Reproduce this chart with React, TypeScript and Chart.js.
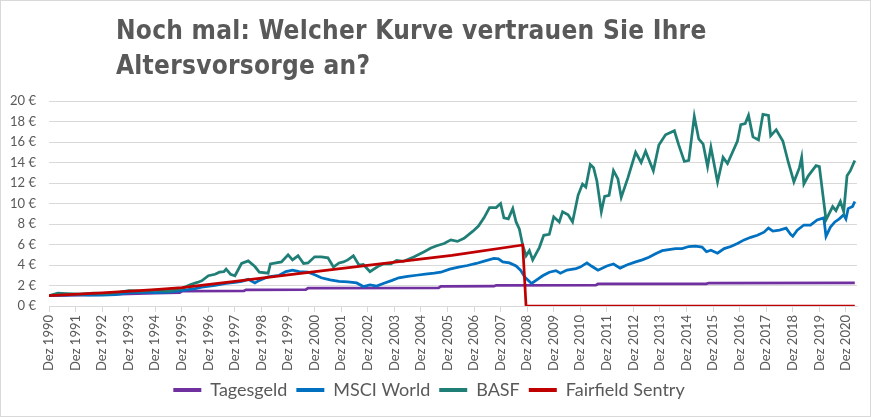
import React, { useEffect, useRef } from 'react';
import { Chart, registerables } from 'chart.js';

Chart.register(...registerables);

// x values are months counted from Dez 1990
const tickYears = [1990, 1991, 1992, 1993, 1994, 1995, 1996, 1997, 1998, 1999, 2000, 2001, 2002, 2003, 2004, 2005, 2006, 2007, 2008, 2009, 2010, 2011, 2012, 2013, 2014, 2015, 2016, 2017, 2018, 2019, 2020];
const yTickValues = [0, 2, 4, 6, 8, 10, 12, 14, 16, 18, 20];

const seriesNames = ['Tagesgeld', 'MSCI World', 'BASF', 'Fairfield Sentry'];

const tagesgeldMonths = [0, 12, 24, 36, 48, 59, 60, 88, 89, 116, 117, 176, 177, 201, 202, 247, 248, 297, 298, 364];
const tagesgeldValues = [1.0, 1.06, 1.12, 1.18, 1.25, 1.3, 1.44, 1.47, 1.58, 1.6, 1.75, 1.77, 1.92, 1.93, 2.02, 2.03, 2.15, 2.16, 2.24, 2.25];

const fairfieldMonths = [0, 24, 48, 60, 84, 108, 141, 182, 214, 215.5, 364];
const fairfieldValues = [1.0, 1.28, 1.6, 1.8, 2.4, 3.03, 3.9, 4.95, 5.95, 0, 0];

const msciMonths = [0, 4, 8, 12, 18, 24, 30, 36, 42, 48, 54, 60, 66, 69, 75, 80, 84, 87, 90, 93, 95, 99, 104, 107, 110, 113, 117, 120, 123, 127, 131, 135, 139, 142, 145, 148, 151, 155, 158, 162, 166, 170, 174, 177, 181, 185, 189, 193, 197, 201, 203, 205, 208, 211, 213, 215, 218, 220, 223, 226, 229, 231, 234, 238, 240, 243, 245, 248, 252, 255, 258, 261, 265, 268, 271, 274, 277, 280, 283, 286, 289, 292, 295, 297, 299, 302, 305, 308, 311, 314, 317, 320, 323, 325, 327, 330, 333, 335, 336, 338, 341, 344, 347, 350, 351, 353, 355, 357, 359, 360, 361, 363, 364];
const msciValues = [1.0, 1.08, 1.05, 1.1, 1.05, 1.05, 1.12, 1.28, 1.35, 1.3, 1.35, 1.5, 1.7, 1.85, 2.0, 2.2, 2.3, 2.4, 2.6, 2.25, 2.5, 2.85, 3.0, 3.35, 3.5, 3.35, 3.3, 3.05, 2.75, 2.55, 2.4, 2.35, 2.25, 1.9, 2.05, 1.95, 2.2, 2.5, 2.75, 2.9, 3.0, 3.1, 3.2, 3.3, 3.6, 3.8, 3.95, 4.15, 4.4, 4.65, 4.6, 4.3, 4.2, 3.9, 3.5, 2.8, 2.2, 2.5, 2.95, 3.3, 3.45, 3.2, 3.5, 3.65, 3.8, 4.2, 3.9, 3.5, 3.9, 4.1, 3.7, 4.0, 4.3, 4.5, 4.75, 5.1, 5.4, 5.5, 5.6, 5.6, 5.8, 5.85, 5.75, 5.3, 5.45, 5.15, 5.6, 5.8, 6.1, 6.45, 6.7, 6.9, 7.2, 7.6, 7.3, 7.4, 7.6, 7.0, 6.8, 7.4, 7.9, 7.9, 8.4, 8.6, 6.8, 7.7, 8.2, 8.5, 8.9, 8.5, 9.5, 9.7, 10.2];

const basfMonths = [0, 4, 8, 14, 20, 26, 32, 36, 42, 48, 54, 60, 64, 67, 69, 72, 75, 77, 79, 80, 82, 84, 87, 90, 93, 95, 99, 100, 105, 108, 110, 112.5, 115, 117, 120, 123, 126, 128.5, 131, 133, 135, 137.5, 140, 142, 145, 148.5, 151, 154.5, 157, 160, 165, 169.5, 172.5, 175.5, 178.5, 181.5, 184.5, 187.5, 191.5, 194, 196.5, 199, 202, 204, 205.5, 207.5, 209.5, 211, 212.5, 214, 215.5, 217, 218.5, 221.5, 223.5, 226, 228, 230.5, 232, 234.5, 236.5, 239, 241, 242.5, 244.5, 246, 247.5, 249.5, 251, 253, 255, 257, 258.5, 261.5, 265, 267.5, 269.5, 273, 275.5, 278.5, 282.5, 284.5, 287, 289, 291.5, 293.5, 295.5, 297.5, 299, 302, 304.5, 306.5, 311, 312.5, 314.5, 316, 318, 320.5, 322.5, 325, 326, 328.5, 331.5, 334, 336.5, 339, 340, 341, 343, 346.5, 348, 351, 354, 355.5, 357.5, 359, 360.5, 362, 364];
const basfValues = [1.0, 1.25, 1.2, 1.15, 1.25, 1.2, 1.35, 1.5, 1.45, 1.55, 1.45, 1.7, 2.1, 2.3, 2.45, 2.95, 3.1, 3.3, 3.35, 3.6, 3.1, 2.95, 4.15, 4.4, 3.85, 3.3, 3.2, 4.1, 4.3, 5.0, 4.5, 4.9, 4.15, 4.2, 4.8, 4.8, 4.7, 3.8, 4.2, 4.3, 4.5, 4.9, 4.0, 4.05, 3.35, 3.85, 4.1, 4.1, 4.45, 4.35, 4.8, 5.3, 5.65, 5.9, 6.1, 6.45, 6.3, 6.6, 7.3, 7.8, 8.6, 9.6, 9.6, 10.0, 8.6, 8.5, 9.5, 8.2, 7.5, 5.9, 4.9, 5.4, 4.5, 5.7, 6.9, 7.0, 8.7, 8.2, 9.2, 8.9, 8.2, 10.8, 11.9, 11.6, 13.8, 13.5, 12.2, 9.2, 10.7, 10.8, 13.2, 12.4, 10.6, 12.5, 15.0, 14.0, 15.1, 13.2, 15.7, 16.7, 17.1, 15.7, 14.1, 14.2, 18.5, 16.3, 15.8, 13.6, 15.5, 12.1, 14.5, 13.9, 16.1, 17.7, 17.8, 18.6, 16.5, 16.2, 18.7, 18.6, 16.6, 17.2, 16.1, 14.0, 12.1, 13.5, 14.5, 11.9, 12.7, 13.7, 13.6, 8.4, 9.7, 9.3, 10.2, 9.2, 12.7, 13.2, 14.2];

const toPoints = (xs: number[], ys: number[]) => xs.map((x, i) => ({ x, y: ys[i] }));

export default function App() {
  const canvasRef = useRef<HTMLCanvasElement | null>(null);

  useEffect(() => {
    if (!canvasRef.current) return;
    const font = 'Lato';
    const grey = '#595959';
    const gridColor = '#d9d9d9';
    const mk = (label: string, xs: number[], ys: number[], color: string, order: number) => ({
      label,
      data: toPoints(xs, ys),
      borderColor: color,
      backgroundColor: color,
      borderWidth: 2.75,
      pointRadius: 0,
      tension: 0,
      fill: false,
      order,
    });
    const chart = new Chart(canvasRef.current, {
      type: 'line',
      data: {
        datasets: [
          mk(seriesNames[0], tagesgeldMonths, tagesgeldValues, '#7030A0', 3),
          mk(seriesNames[1], msciMonths, msciValues, '#0070C0', 2),
          mk(seriesNames[2], basfMonths, basfValues, '#1F7F76', 1),
          mk(seriesNames[3], fairfieldMonths, fairfieldValues, '#C00000', 0),
        ],
      },
      options: {
        animation: false,
        responsive: false,
        maintainAspectRatio: false,
        layout: { padding: { top: 100, left: 0, right: 13, bottom: 7 } },
        plugins: {
          tooltip: { enabled: false },
          title: { display: false },
          legend: {
            position: 'bottom',
            labels: {
              font: { family: font, size: 18 },
              color: grey,
              boxWidth: 28,
              boxHeight: 4,
              padding: 9,
              sort: (a: any, b: any) => a.datasetIndex - b.datasetIndex,
              generateLabels: (c: any) =>
                Chart.defaults.plugins.legend.labels.generateLabels(c).map((l: any) => ({
                  ...l,
                  lineWidth: 0,
                  fillStyle: l.strokeStyle,
                })),
            },
          },
        },
        scales: {
          x: {
            type: 'linear',
            min: 0,
            max: 365,
            afterFit: (s: any) => {
              s.height = 66;
            },
            afterBuildTicks: (s: any) => {
              s.ticks = tickYears.map((_, i) => ({ value: i * 12 }));
            },
            ticks: {
              autoSkip: false,
              maxRotation: 90,
              minRotation: 90,
              color: grey,
              font: { family: font, size: 13 },
              padding: 3,
              callback: (v: any) => {
                const idx = Math.round(Number(v) / 12);
                return 'Dez ' + tickYears[idx];
              },
            },
            grid: {
              drawOnChartArea: false,
              drawTicks: true,
              tickLength: 6,
              color: gridColor,
            },
            border: { display: true, color: gridColor },
          },
          y: {
            min: 0,
            max: 20,
            afterFit: (s: any) => {
              s.width = 48;
            },
            afterBuildTicks: (s: any) => {
              s.ticks = yTickValues.map((v) => ({ value: v }));
            },
            ticks: {
              color: grey,
              font: { family: font, size: 13 },
              padding: 13,
              callback: (v: any) => v + ' €',
            },
            grid: { color: gridColor, drawTicks: false },
            border: { display: false },
          },
        },
      },
    } as any);
    return () => chart.destroy();
  }, []);

  return (
    <div
      style={{
        position: 'absolute',
        left: 0,
        top: 0,
        width: 871,
        height: 417,
        boxSizing: 'border-box',
        border: '1px solid #d9d9d9',
        background: '#fff',
        overflow: 'hidden',
      }}
    >
      <canvas ref={canvasRef} width={869} height={415} style={{ position: 'absolute', left: 0, top: 0 }} />
      <div
        style={{
          position: 'absolute',
          left: 115,
          top: 12,
          fontFamily: '"DejaVu Sans Condensed", "DejaVu Sans", sans-serif',
          fontWeight: 'bold',
          fontSize: 26,
          letterSpacing: '0.25px',
          lineHeight: '35px',
          color: '#595959',
          whiteSpace: 'nowrap',
        }}
      >
        <div>Noch mal: Welcher Kurve vertrauen Sie Ihre</div>
        <div>Altersvorsorge an?</div>
      </div>
    </div>
  );
}
